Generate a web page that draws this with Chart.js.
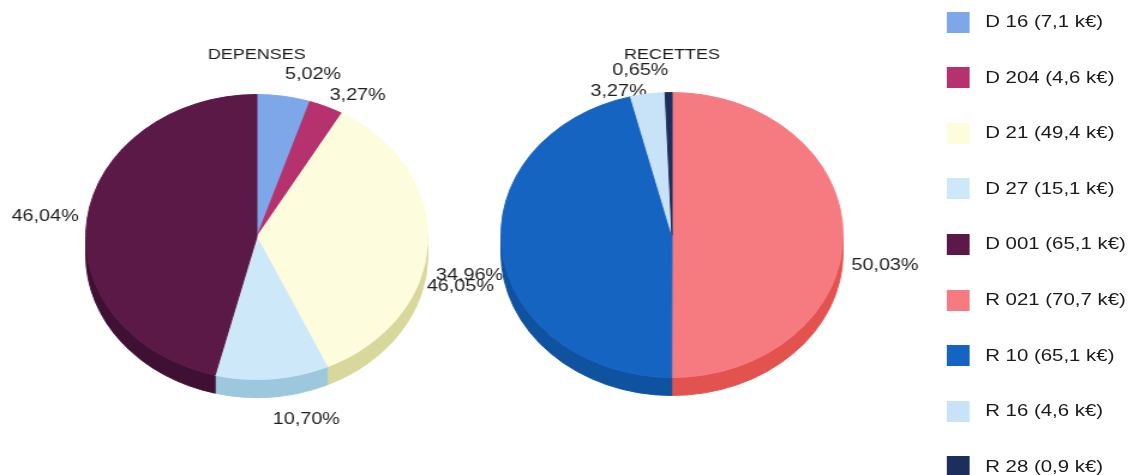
<!DOCTYPE html>
<html>
<head>
<meta charset="utf-8">
<script src="https://cdn.jsdelivr.net/npm/chart.js@4.4.1/dist/chart.umd.min.js"></script>
<style>
  html, body { margin: 0; padding: 0; background: #fff; overflow: hidden; }
  body { width: 1128px; height: 475px; position: relative; }
  #stage { position: absolute; left: 0; top: 0; width: 940px; height: 475px;
           transform: scaleX(1.2); transform-origin: 0 0; }
  canvas { position: absolute; top: 0; }
  #c1 { left: 0px; }
  #c2 { left: 340px; }
  #legend { position: absolute; left: 789px; top: 0; width: 150px; height: 475px;
            font-family: "Liberation Sans", Arial, sans-serif; font-size: 17px; color: #1a1a1a; }
  .item { position: absolute; left: 0; height: 22px; display: flex; align-items: center; white-space: nowrap; }
  .box { width: 19px; height: 21px; margin-right: 13px; flex: none; }
</style>
</head>
<body>
<div id="stage">
  <canvas id="c1" width="428" height="475"></canvas>
  <canvas id="c2" width="440" height="475"></canvas>
  <div id="legend"></div>
</div>
<script>
// ---- data ----
const depTitle = 'DEPENSES';
const depCategories = ['D 16', 'D 204', 'D 21', 'D 27', 'D 001'];
const depValues = [7.1, 4.6, 49.4, 15.1, 65.1];           // k€
const depPercentLabels = ['5,02%', '3,27%', '34,96%', '10,70%', '46,04%'];

const recTitle = 'RECETTES';
const recCategories = ['R 021', 'R 10', 'R 16', 'R 28'];
const recValues = [70.7, 65.1, 4.6, 0.9];                  // k€
const recPercentLabels = ['50,03%', '46,05%', '3,27%', '0,65%'];

// ---- styles ----
const depColors     = ['#7ea7ea', '#b5326f', '#fdfcdc', '#cde8f9', '#5a1947'];
const depSideColors = ['#5f86c4', '#8a2253', '#d8d79c', '#9cc7dc', '#3f1033'];
const recColors     = ['#f67b80', '#1664c2', '#c8e3f8', '#1c2e5c'];
const recSideColors = ['#e2534f', '#0f529f', '#9fc2da', '#121f40'];

const FONT = '"Liberation Sans", Arial, sans-serif';

// Plugin: 3D side (depth) + outside percentage labels, both drawn from the arc elements
const pieDecor = {
  id: 'pieDecor',
  beforeDatasetsDraw(chart, args, opts) {
    const ctx = chart.ctx;
    const meta = chart.getDatasetMeta(0);
    const depth = opts.depth;

    // labels (drawn behind the pie, like the reference)
    ctx.save();
    ctx.font = '16.5px ' + FONT;
    ctx.fillStyle = '#1e1e1e';
    ctx.textBaseline = 'middle';
    const items = meta.data.map((arc, i) => {
      const p = arc.getProps(['x', 'y', 'startAngle', 'endAngle', 'outerRadius'], true);
      const mid = (p.startAngle + p.endAngle) / 2;
      const c = Math.cos(mid), s = Math.sin(mid);
      const lx = p.x + (p.outerRadius + 7) * c;
      let ly = p.y + (p.outerRadius + 22) * s;
      if (s >= 0) ly += depth * s + 30 * c * c;
      return { text: opts.labels[i], lx, ly, align: c >= 0 ? 'left' : 'right' };
    });
    items.sort((a, b) => a.ly - b.ly);
    const h = 16, gap = 5;
    const placed = [];
    for (const it of items) {
      const w = ctx.measureText(it.text).width;
      const x0 = it.align === 'left' ? it.lx : it.lx - w;
      let moved = true;
      while (moved) {
        moved = false;
        for (const q of placed) {
          if (x0 < q.x1 && x0 + w > q.x0 && it.ly - h / 2 < q.y1 && it.ly + h / 2 > q.y0) {
            it.ly = q.y1 + h / 2 + gap; moved = true;
          }
        }
      }
      placed.push({ x0, x1: x0 + w, y0: it.ly - h / 2, y1: it.ly + h / 2 });
      ctx.textAlign = it.align;
      ctx.fillText(it.text, it.lx, it.ly);
    }
    ctx.restore();

    // sides
    ctx.save();
    meta.data.forEach((arc, i) => {
      const p = arc.getProps(['x', 'y', 'startAngle', 'endAngle', 'outerRadius'], true);
      const a0 = Math.max(p.startAngle, 0), a1 = Math.min(p.endAngle, Math.PI);
      if (a1 <= a0) return;
      const r = p.outerRadius;
      ctx.beginPath();
      ctx.arc(p.x, p.y, r, a0, a1);
      ctx.lineTo(p.x + r * Math.cos(a1), p.y + depth + r * Math.sin(a1));
      ctx.arc(p.x, p.y + depth, r, a1, a0, true);
      ctx.closePath();
      ctx.fillStyle = opts.sideColors[i];
      ctx.strokeStyle = opts.sideColors[i];
      ctx.lineWidth = 1;
      ctx.fill();
      ctx.stroke();
    });
    ctx.restore();
  }
};

function makePie(id, title, cats, vals, colors, sideColors, labels, pad) {
  return new Chart(document.getElementById(id), {
    type: 'pie',
    data: {
      labels: cats,
      datasets: [{
        data: vals,
        backgroundColor: colors,
        borderColor: colors,
        borderWidth: 1
      }]
    },
    options: {
      responsive: false,
      animation: false,
      events: [],
      layout: { padding: { top: 0, bottom: pad.bottom, left: 0, right: 0 } },
      plugins: {
        legend: { display: false },
        tooltip: { enabled: false },
        title: {
          display: true,
          text: title,
          color: '#1a1a1a',
          font: { family: FONT, size: 15, weight: 'normal' },
          padding: { top: pad.titleTop, bottom: pad.titleBottom }
        },
        pieDecor: { depth: 18, labels: labels, sideColors: sideColors }
      }
    },
    plugins: [pieDecor]
  });
}

makePie('c1', depTitle, depCategories, depValues, depColors, depSideColors, depPercentLabels,
        { titleTop: 46, titleBottom: 30, bottom: 95 });
makePie('c2', recTitle, recCategories, recValues, recColors, recSideColors, recPercentLabels,
        { titleTop: 46, titleBottom: 28, bottom: 97 });

// HTML legend built from the arrays
const legend = document.getElementById('legend');
const allCats = depCategories.concat(recCategories);
const allVals = depValues.concat(recValues);
const allCols = depColors.concat(recColors);
allCats.forEach((c, i) => {
  const row = document.createElement('div');
  row.className = 'item';
  row.style.top = (11 + 55.6 * i) + 'px';
  const box = document.createElement('span');
  box.className = 'box';
  box.style.background = allCols[i];
  const txt = document.createElement('span');
  txt.textContent = c + ' (' + allVals[i].toFixed(1).replace('.', ',') + ' k€)';
  row.appendChild(box);
  row.appendChild(txt);
  legend.appendChild(row);
});
</script>
</body>
</html>
